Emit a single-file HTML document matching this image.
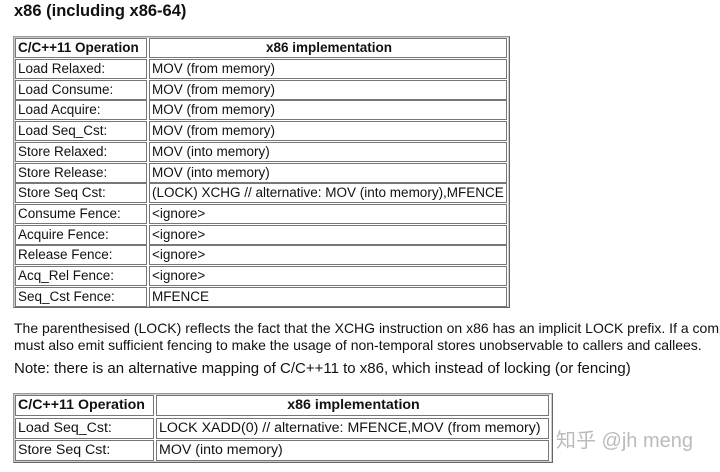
<!DOCTYPE html>
<html><head><meta charset="utf-8"><style>
body{margin:0;width:720px;height:472px;background:#fff;position:relative;overflow:hidden;font-family:"Liberation Sans",sans-serif;color:#111}
.t{position:absolute;border:1px solid #999;border-right-color:#666;border-bottom-color:#666;box-shadow:inset 0 0 0 1px #ccc}
.c{position:absolute;border:1px solid #777;box-sizing:border-box;font-size:13.5px;line-height:18px;padding-left:2px;white-space:nowrap;overflow:hidden}
.b{font-weight:bold}
.p{position:absolute;left:14px;font-size:14px;white-space:nowrap}
</style></head><body>
<div class="p b" style="top:2px;font-size:16.5px">x86 (including x86-64)</div>

<div class="t" style="left:13px;top:36px;width:495px;height:270px"></div>
<div class="c b" style="left:15px;top:38px;width:132px;height:20px">C/C++11 Operation</div>
<div class="c b" style="left:149px;top:38px;width:358px;height:20px;text-align:center">x86 implementation</div>

<div class="c" style="left:15px;top:59px;width:132px;height:20px">Load Relaxed:</div><div class="c" style="left:149px;top:59px;width:358px;height:20px">MOV (from memory)</div>
<div class="c" style="left:15px;top:79.7px;width:132px;height:20px">Load Consume:</div><div class="c" style="left:149px;top:79.7px;width:358px;height:20px">MOV (from memory)</div>
<div class="c" style="left:15px;top:100.4px;width:132px;height:20px">Load Acquire:</div><div class="c" style="left:149px;top:100.4px;width:358px;height:20px">MOV (from memory)</div>
<div class="c" style="left:15px;top:121.1px;width:132px;height:20px">Load Seq_Cst:</div><div class="c" style="left:149px;top:121.1px;width:358px;height:20px">MOV (from memory)</div>
<div class="c" style="left:15px;top:141.8px;width:132px;height:20px">Store Relaxed:</div><div class="c" style="left:149px;top:141.8px;width:358px;height:20px">MOV (into memory)</div>
<div class="c" style="left:15px;top:162.5px;width:132px;height:20px">Store Release:</div><div class="c" style="left:149px;top:162.5px;width:358px;height:20px">MOV (into memory)</div>
<div class="c" style="left:15px;top:183.2px;width:132px;height:20px">Store Seq Cst:</div><div class="c" style="left:149px;top:183.2px;width:358px;height:20px">(LOCK) XCHG // alternative: MOV (into memory),MFENCE</div>
<div class="c" style="left:15px;top:203.9px;width:132px;height:20px">Consume Fence:</div><div class="c" style="left:149px;top:203.9px;width:358px;height:20px">&lt;ignore&gt;</div>
<div class="c" style="left:15px;top:224.6px;width:132px;height:20px">Acquire Fence:</div><div class="c" style="left:149px;top:224.6px;width:358px;height:20px">&lt;ignore&gt;</div>
<div class="c" style="left:15px;top:245.3px;width:132px;height:20px">Release Fence:</div><div class="c" style="left:149px;top:245.3px;width:358px;height:20px">&lt;ignore&gt;</div>
<div class="c" style="left:15px;top:266px;width:132px;height:20px">Acq_Rel Fence:</div><div class="c" style="left:149px;top:266px;width:358px;height:20px">&lt;ignore&gt;</div>
<div class="c" style="left:15px;top:286.7px;width:132px;height:20px">Seq_Cst Fence:</div><div class="c" style="left:149px;top:286.7px;width:358px;height:20px">MFENCE</div>

<div class="p" style="top:320px">The parenthesised (LOCK) reflects the fact that the XCHG instruction on x86 has an implicit LOCK prefix. If a comp</div>
<div class="p" style="top:337px">must also emit sufficient fencing to make the usage of non-temporal stores unobservable to callers and callees.</div>
<div class="p" style="top:360px;font-size:15px">Note: there is an alternative mapping of C/C++11 to x86, which instead of locking (or fencing)</div>

<div class="t" style="left:13px;top:393px;width:538px;height:68px"></div>
<div class="c b" style="left:15px;top:395px;width:139px;height:21px;font-size:14.2px">C/C++11 Operation</div>
<div class="c b" style="left:156px;top:395px;width:393px;height:21px;text-align:center;font-size:14.2px">x86 implementation</div>
<div class="c" style="left:15px;top:417.5px;width:139px;height:21px;font-size:14.2px">Load Seq_Cst:</div>
<div class="c" style="left:156px;top:417.5px;width:393px;height:21px;font-size:14.2px">LOCK XADD(0) // alternative: MFENCE,MOV (from memory)</div>
<div class="c" style="left:15px;top:440px;width:139px;height:21px;font-size:14.2px">Store Seq Cst:</div>
<div class="c" style="left:156px;top:440px;width:393px;height:21px;font-size:14.2px">MOV (into memory)</div>

<div style="position:absolute;left:556px;top:424px;font-size:20px;color:#bbb;font-family:'Liberation Sans','Noto Sans CJK SC',sans-serif;white-space:nowrap">知乎 @jh meng</div>
</body></html>
